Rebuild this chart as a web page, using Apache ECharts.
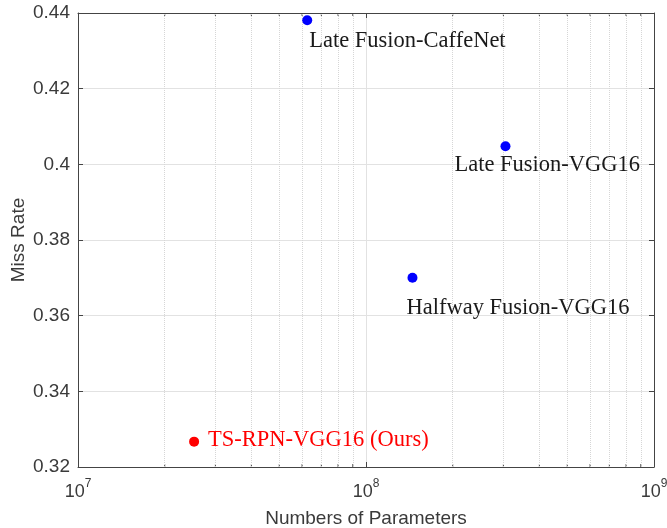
<!DOCTYPE html>
<html>
<head>
<meta charset="utf-8">
<script src="https://cdn.jsdelivr.net/npm/echarts@6/dist/echarts.min.js"></script>
<style>
  html, body { margin: 0; padding: 0; background: #fff; }
  #main { width: 667px; height: 528px; }
</style>
</head>
<body>
<div id="main"></div>
<script>
// 数据
var methodNames = ['Late Fusion-CaffeNet', 'Late Fusion-VGG16', 'Halfway Fusion-VGG16', 'TS-RPN-VGG16 (Ours)'];
var paramCounts = [6.25e7, 3.05e8, 1.45e8, 2.53e7];
var missRates = [0.4381, 0.4048, 0.3700, 0.3267];
var pointColors = ['#0000ff', '#0000ff', '#0000ff', '#ff0000'];
var minorGridX = [2e7, 3e7, 4e7, 5e7, 6e7, 7e7, 8e7, 9e7, 2e8, 3e8, 4e8, 5e8, 6e8, 7e8, 8e8, 9e8];
var yMin = 0.32, yMax = 0.44;

// 标签位置 (相对点)
var labelPos = [[7, 26], [-46, 24], [-1, 35], [19, 3]];
var labelColors = ['#1a1a1a', '#1a1a1a', '#1a1a1a', '#ff0000'];

var myChart = echarts.init(document.getElementById('main'));

var seriesData = methodNames.map(function (name, i) {
    return {
        name: name,
        value: [paramCounts[i], missRates[i]],
        itemStyle: { color: pointColors[i], opacity: 1 },
        label: {
            show: true,
            formatter: name,
            position: labelPos[i],
            align: 'left',
            verticalAlign: 'middle',
            color: labelColors[i],
            fontFamily: 'Liberation Serif',
            fontSize: 22.5
        }
    };
});

var axisLineStyle = { color: '#444', width: 1 };
var textGray = '#3a3a3a';

var option = {
    animation: false,
    backgroundColor: '#fff',
    grid: { left: 78, right: 13, top: 13, bottom: 61, outerBoundsMode: 'none', containLabel: false },
    xAxis: [{
        type: 'log',
        logBase: 10,
        min: 1e7,
        max: 1e9,
        name: 'Numbers of Parameters',
        nameLocation: 'middle',
        nameGap: 42,
        nameTextStyle: { color: textGray, fontSize: 19, fontFamily: 'Liberation Sans' },
        axisLine: { show: true, lineStyle: axisLineStyle },
        axisTick: { show: true, inside: true, length: 5, lineStyle: axisLineStyle },
        axisLabel: {
            margin: 11,
            formatter: function (v) {
                var e = Math.round(Math.log(v) / Math.LN10);
                return '{b|10}{e|' + e + '}';
            },
            rich: {
                b: { fontSize: 18, color: textGray, fontFamily: 'Liberation Sans', verticalAlign: 'bottom' },
                e: { fontSize: 12, color: textGray, fontFamily: 'Liberation Sans', verticalAlign: 'bottom', padding: [0, 0, 11, 0] }
            }
        },
        splitLine: { show: true, lineStyle: { color: '#e2e2e2', width: 1 } }
    }, {
        type: 'log',
        logBase: 10,
        min: 1e7,
        max: 1e9,
        position: 'top',
        axisLine: { show: true, lineStyle: axisLineStyle },
        axisTick: { show: true, inside: true, length: 5, lineStyle: axisLineStyle },
        axisLabel: { show: false },
        splitLine: { show: false }
    }],
    yAxis: [{
        type: 'value',
        min: yMin,
        max: yMax,
        interval: 0.02,
        name: 'Miss Rate',
        nameLocation: 'middle',
        nameGap: 50,
        nameMoveOverlap: false,
        nameTextStyle: { color: textGray, fontSize: 19, fontFamily: 'Liberation Sans' },
        axisLine: { show: true, lineStyle: axisLineStyle },
        axisTick: { show: true, inside: true, length: 5, lineStyle: axisLineStyle },
        axisLabel: { color: textGray, fontSize: 19, fontFamily: 'Liberation Sans', margin: 8 },
        splitLine: { show: true, lineStyle: { color: '#e2e2e2', width: 1 } }
    }, {
        type: 'value',
        min: yMin,
        max: yMax,
        interval: 0.02,
        position: 'right',
        axisLine: { show: true, lineStyle: axisLineStyle },
        axisTick: { show: true, inside: true, length: 5, lineStyle: axisLineStyle },
        axisLabel: { show: false },
        splitLine: { show: false }
    }],
    series: [{
        // 次刻度线 (上下两边)
        type: 'custom',
        xAxisIndex: 0,
        yAxisIndex: 0,
        silent: true,
        data: minorGridX,
        renderItem: function (params, api) {
            var v = api.value(0);
            var b = api.coord([v, yMin]);
            var t = api.coord([v, yMax]);
            return {
                type: 'group',
                children: [{
                    type: 'line',
                    shape: { x1: b[0], y1: b[1], x2: b[0], y2: b[1] - 3 },
                    style: { stroke: '#444', lineWidth: 1 }
                }, {
                    type: 'line',
                    shape: { x1: t[0], y1: t[1], x2: t[0], y2: t[1] + 3 },
                    style: { stroke: '#444', lineWidth: 1 }
                }]
            };
        },
        z: 3
    }, {
        type: 'scatter',
        xAxisIndex: 0,
        yAxisIndex: 0,
        symbol: 'circle',
        symbolSize: 10,
        data: seriesData,
        markLine: {
            silent: true,
            symbol: 'none',
            label: { show: false },
            lineStyle: { color: '#d6d6d6', type: 'dotted', width: 1 },
            data: minorGridX.map(function (v) { return { xAxis: v }; })
        },
        z: 5
    }]
};

myChart.setOption(option);
</script>
</body>
</html>
